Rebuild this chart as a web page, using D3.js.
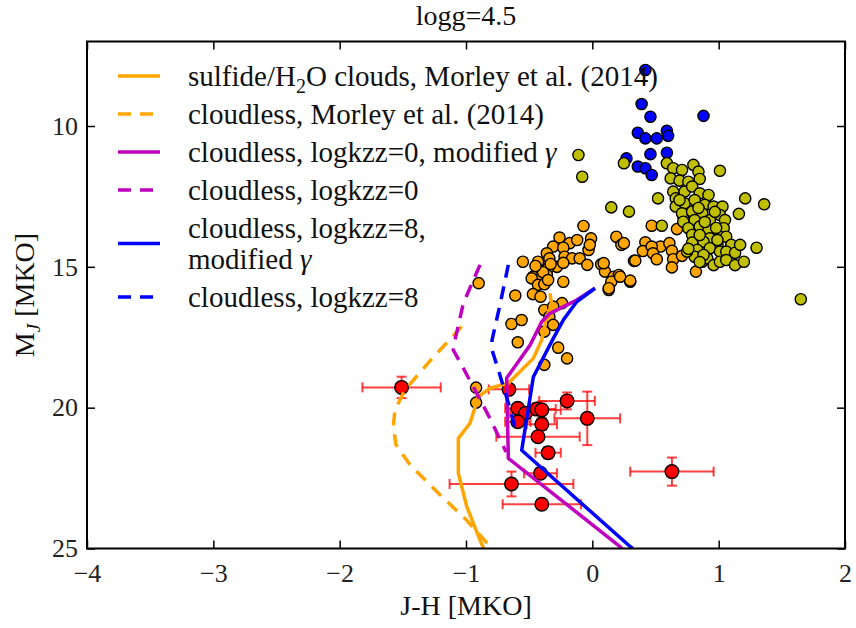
<!DOCTYPE html>
<html>
<head>
<meta charset="utf-8">
<script src="https://cdn.jsdelivr.net/npm/d3@7"></script>
<style>
  html, body { margin: 0; padding: 0; background: #fff; }
  svg { display: block; font-family: "Liberation Serif", "DejaVu Serif", serif; }
</style>
</head>
<body>
<svg id="chart" width="856" height="628"></svg>
<script>
// ---- axis ticks ----
const xTicks = [-4, -3, -2, -1, 0, 1, 2];
const yTicks = [10, 15, 20, 25];

// ---- model tracks: [J-H, M_J] ----
const morleySulfide = [[-0.335,15.94],[-0.321,16.36],[-0.361,16.77],[-0.401,17.60],[-0.467,18.25],[-0.572,18.72],[-0.665,19.13],[-0.810,19.31],[-0.903,19.61],[-0.968,20.55],[-1.061,21.09],[-1.061,22.33],[-0.994,23.51],[-0.889,24.70],[-0.860,25.00]];
const morleyClear = [[-1.034,17.12],[-1.285,18.34],[-1.483,19.37],[-1.562,20.08],[-1.576,20.67],[-1.554,21.32],[-1.443,22.03],[-1.206,23.09],[-1.000,23.97],[-0.810,24.93],[-0.790,25.00]];
const kzz0Gamma = [[0.021,15.76],[-0.124,16.18],[-0.335,16.65],[-0.401,16.95],[-0.493,17.78],[-0.678,18.95],[-0.665,21.80],[0.219,24.93],[0.236,25.00]];
const kzz0 = [[-0.889,14.93],[-1.021,16.29],[-1.087,17.60],[-1.101,17.95],[-1.021,18.60],[-0.810,20.38],[-0.683,21.57]];
const kzz8Gamma = [[0.021,15.76],[-0.124,16.24],[-0.230,16.89],[-0.309,17.54],[-0.467,18.91],[-0.559,21.51],[0.299,24.93],[0.320,25.00]];
const kzz8 = [[-0.665,14.93],[-0.731,16.35],[-0.794,17.60],[-0.794,17.95],[-0.744,18.66],[-0.652,20.02],[-0.599,20.94]];

// ---- field dwarfs: [J-H, M_J] ----
const mDwarfs = [[0.42,8.01],[0.39,9.22],[0.46,9.67],[0.88,9.64],[0.36,10.24],[0.42,10.44],[0.51,10.44],[0.59,10.17],[0.60,10.35],[0.46,11.00],[0.59,10.95],[0.27,11.15],[0.36,11.44],[0.42,11.50],[0.47,11.74]];
const tDwarfs = [[-0.07,13.55],[-0.26,13.96],[-0.18,14.16],[-0.12,14.05],[-0.01,13.99],[0.19,13.93],[0.23,14.22],[0.42,14.13],[0.40,14.44],[-0.31,14.28],[-0.23,14.32],[-0.03,14.40],[-0.02,14.22],[-0.36,14.52],[-0.34,14.70],[-0.22,14.64],[-0.16,14.70],[-0.10,14.70],[-0.43,14.82],[-0.55,14.82],[0.33,14.79],[-0.04,14.93],[0.07,14.91],[-0.28,15.00],[-0.23,14.86],[-0.35,15.05],[-0.43,15.11],[-0.47,15.35],[-0.40,15.35],[-0.36,15.29],[-0.48,15.41],[0.10,15.17],[0.17,15.35],[0.21,15.29],[0.15,15.53],[0.30,15.53],[-0.23,15.53],[-0.43,15.64],[-0.38,15.62],[0.13,15.82],[-0.90,15.58],[-0.61,16.02],[-0.47,15.97],[-0.41,16.06],[-0.24,16.29],[-0.38,16.53],[-0.31,16.41],[-0.64,17.03],[-0.56,16.89],[-0.34,16.77],[-0.31,17.06],[-0.38,17.30],[-0.59,17.68],[-0.27,17.87],[-0.20,18.25],[-0.38,18.48],[-0.92,19.29],[-0.92,19.82],[0.25,14.16],[0.47,13.54],[0.54,14.28],[0.61,14.16],[0.47,14.28],[0.48,14.52],[0.63,14.43],[0.67,13.66],[0.34,14.78],[0.51,14.73],[0.64,14.73],[0.71,14.61],[0.63,15.02],[0.82,15.17],[0.87,14.82],[0.30,15.49],[0.22,15.35],[0.72,13.22],[0.09,14.87],[0.13,15.76],[-0.39,15.19],[-0.35,15.47],[-0.45,14.97],[-0.33,14.90]];
const lDwarfs = [[-0.11,11.03],[-0.08,11.80],[0.15,12.89],[0.29,13.04],[0.25,11.32],[0.52,12.57],[0.55,13.54],[1.01,11.59],[1.21,12.57],[1.36,12.78],[1.16,13.12],[1.30,14.32],[1.65,16.15],[0.59,11.32],[0.64,11.50],[0.71,11.56],[0.80,11.38],[0.84,11.62],[0.62,11.86],[0.69,11.94],[0.76,11.98],[0.85,11.88],[0.64,12.33],[0.73,12.33],[0.79,12.15],[0.85,12.39],[0.92,12.45],[0.66,12.57],[0.66,12.86],[0.73,12.74],[0.81,12.63],[0.89,12.80],[0.96,12.86],[1.03,12.86],[0.71,13.10],[0.79,13.04],[0.87,13.10],[1.01,13.16],[0.72,13.40],[0.81,13.34],[0.93,13.34],[1.05,13.34],[0.76,13.63],[0.85,13.57],[1.04,13.63],[0.79,13.87],[0.92,13.69],[0.93,13.99],[1.01,13.93],[1.06,13.93],[0.79,14.14],[0.88,14.11],[0.99,14.22],[1.10,14.22],[0.83,14.40],[0.93,14.34],[1.01,14.46],[1.06,14.46],[1.13,14.50],[0.81,14.64],[0.91,14.70],[0.96,14.94],[1.01,14.82],[1.06,14.76],[1.13,14.94],[1.20,14.82],[0.88,14.58],[0.75,14.46],[0.69,12.63],[0.84,12.91],[0.97,13.05],[0.89,13.41],[0.98,13.62],[0.85,13.87],[0.99,14.05],[1.17,14.22],[0.76,14.36],[0.85,14.83]];

// ---- Y dwarfs with uncertainties: [J-H, M_J, err(J-H), err(M_J)] ----
const yDwarfs = [[-1.51,19.28,0.31,0.38],[-0.66,19.35,0.16,0.10],[-0.20,19.76,0.22,0.30],[-0.04,20.38,0.26,0.95],[-0.59,20.02,0.10,0.15],[-0.53,20.20,0.12,0.15],[-0.44,20.05,0.15,0.20],[-0.40,20.08,0.15,0.30],[-0.59,20.50,0.10,0.15],[-0.40,20.59,0.12,0.20],[-0.43,21.03,0.33,0.15],[-0.35,21.60,0.10,0.20],[-0.41,22.33,0.13,0.10],[-0.64,22.71,0.49,0.44],[-0.40,23.43,0.31,0.10],[0.63,22.27,0.33,0.50]];

// ---- legend entries: each label is a list of lines, each line a list of [text, style] runs ----
const tracks = [
  { data: morleySulfide, color: "#ffa500", dash: null, label: [[["sulfide/H"], ["2", "sub"], ["O clouds, Morley et al. (2014)"]]] },
  { data: morleyClear,   color: "#ffa500", dash: "13,9", label: [[["cloudless, Morley et al. (2014)"]]] },
  { data: kzz0Gamma,     color: "#bf00bf", dash: null, label: [[["cloudless, logkzz=0, modified "], ["γ", "it"]]] },
  { data: kzz0,          color: "#bf00bf", dash: "13,9", label: [[["cloudless, logkzz=0"]]] },
  { data: kzz8Gamma,     color: "#0000ff", dash: null, label: [[["cloudless, logkzz=8,"]], [["modified "], ["γ", "it"]]] },
  { data: kzz8,          color: "#0000ff", dash: "13,9", label: [[["cloudless, logkzz=8"]]] }
];

const plot = { left: 87, right: 845, top: 41.5, bottom: 548.5 };
const svg = d3.select("#chart");

const x = d3.scaleLinear().domain([-4, 2]).range([plot.left, plot.right]);
const y = d3.scaleLinear().domain([7, 25]).range([plot.top, plot.bottom]);

svg.append("defs").append("clipPath").attr("id", "plotClip")
  .append("rect")
  .attr("x", plot.left).attr("y", plot.top)
  .attr("width", plot.right - plot.left).attr("height", plot.bottom - plot.top);

const body = svg.append("g").attr("clip-path", "url(#plotClip)");

// scatter of field dwarfs
function scatter(data, fill, r) {
  body.append("g").selectAll("circle").data(data).join("circle")
    .attr("cx", d => x(d[0])).attr("cy", d => y(d[1])).attr("r", r)
    .attr("fill", fill).attr("stroke", "#000").attr("stroke-width", 1.4);
}
scatter(mDwarfs, "#0000ff", 5.6);
scatter(tDwarfs, "#ffa500", 5.6);
scatter(lDwarfs, "#bfbf00", 5.6);

// Y dwarfs: error bars then markers
const eb = body.append("g").attr("stroke", "#ff0000").attr("stroke-opacity", 0.75).attr("stroke-width", 2).attr("fill", "none");
const cap = 5;
yDwarfs.forEach(d => {
  const cx = x(d[0]), cy = y(d[1]);
  const x0 = x(d[0] - d[2]), x1 = x(d[0] + d[2]);
  const y0 = y(d[1] - d[3]), y1 = y(d[1] + d[3]);
  eb.append("line").attr("x1", x0).attr("x2", x1).attr("y1", cy).attr("y2", cy);
  eb.append("line").attr("x1", cx).attr("x2", cx).attr("y1", y0).attr("y2", y1);
  eb.append("line").attr("x1", x0).attr("x2", x0).attr("y1", cy - cap).attr("y2", cy + cap);
  eb.append("line").attr("x1", x1).attr("x2", x1).attr("y1", cy - cap).attr("y2", cy + cap);
  eb.append("line").attr("x1", cx - cap).attr("x2", cx + cap).attr("y1", y0).attr("y2", y0);
  eb.append("line").attr("x1", cx - cap).attr("x2", cx + cap).attr("y1", y1).attr("y2", y1);
});
body.append("g").selectAll("circle").data(yDwarfs).join("circle")
  .attr("cx", d => x(d[0])).attr("cy", d => y(d[1])).attr("r", 6.8)
  .attr("fill", "#ff0000").attr("stroke", "#000").attr("stroke-width", 1.4);

// model tracks
const line = d3.line().x(d => x(d[0])).y(d => y(d[1]));
tracks.forEach(t => {
  body.append("path").datum(t.data).attr("d", line)
    .attr("fill", "none").attr("stroke", t.color).attr("stroke-width", 3.5)
    .attr("stroke-linejoin", "round")
    .attr("stroke-dasharray", t.dash);
});

// axes with inward ticks on all four sides
const fmt = d => d < 0 ? "\u2212" + Math.abs(d) : String(d);
const tickLen = 8;
const axB = svg.append("g").attr("transform", `translate(0,${plot.bottom})`)
  .call(d3.axisBottom(x).tickValues(xTicks).tickSize(-tickLen).tickPadding(15).tickFormat(fmt));
const axT = svg.append("g").attr("transform", `translate(0,${plot.top})`)
  .call(d3.axisTop(x).tickValues(xTicks).tickSize(-tickLen).tickFormat(""));
const axL = svg.append("g").attr("transform", `translate(${plot.left},0)`)
  .call(d3.axisLeft(y).tickValues(yTicks).tickSize(-tickLen).tickPadding(9).tickFormat(fmt));
const axR = svg.append("g").attr("transform", `translate(${plot.right},0)`)
  .call(d3.axisRight(y).tickValues(yTicks).tickSize(-tickLen).tickFormat(""));
[axB, axT, axL, axR].forEach(a => {
  a.select(".domain").remove();
  a.selectAll(".tick line").attr("stroke", "#000").attr("stroke-width", 1.5);
  a.selectAll(".tick text").attr("fill", "#222").style("font-size", "26px")
    .style("font-family", "'Liberation Serif', serif");
});

// frame
svg.append("rect")
  .attr("x", plot.left).attr("y", plot.top)
  .attr("width", plot.right - plot.left).attr("height", plot.bottom - plot.top)
  .attr("fill", "none").attr("stroke", "#000").attr("stroke-width", 2);

// title and axis labels
svg.append("text").attr("x", (plot.left + plot.right) / 2).attr("y", 25)
  .attr("text-anchor", "middle").style("font-size", "28px").attr("fill", "#111").text("logg=4.5");

svg.append("text").attr("x", (plot.left + plot.right) / 2).attr("y", 615)
  .attr("text-anchor", "middle").style("font-size", "28px").attr("fill", "#111").text("J-H [MKO]");

const yl = svg.append("text")
  .attr("transform", `translate(34,${(plot.top + plot.bottom) / 2}) rotate(-90)`)
  .attr("text-anchor", "middle").style("font-size", "28px").attr("fill", "#111");
yl.append("tspan").text("M");
yl.append("tspan").attr("dy", 6).style("font-size", "19px").style("font-style", "italic").text("J");
yl.append("tspan").attr("dy", -6).text(" [MKO]");

// legend (no frame); multi-line labels share one text element
const leg = svg.append("g");
const rowH = 38, lineGap = 31, legTop = 57;
const sampleX0 = 118, sampleX1 = 160, textX = 188, subShift = 7;
let cursor = legTop;
tracks.forEach(t => {
  const nLines = t.label.length;
  const h = rowH + lineGap * (nLines - 1);
  const cy = cursor + h / 2;
  leg.append("line").attr("x1", sampleX0).attr("x2", sampleX1).attr("y1", cy).attr("y2", cy)
    .attr("stroke", t.color).attr("stroke-width", 3.5).attr("stroke-dasharray", t.dash);
  const txt = leg.append("text").attr("x", textX)
    .attr("y", cy - lineGap * (nLines - 1) / 2 + 10)
    .style("font-size", "29px").attr("fill", "#111");
  t.label.forEach((runs, li) => {
    let shift = 0;
    runs.forEach((r, ri) => {
      const ts = txt.append("tspan").text(r[0]);
      let dy = 0;
      if (ri === 0 && li > 0) { ts.attr("x", textX); dy += lineGap; }
      if (r[1] === "sub") { dy += subShift; shift = subShift; ts.style("font-size", "20px"); }
      else if (shift) { dy -= shift; shift = 0; }
      if (r[1] === "it") ts.style("font-style", "italic");
      if (dy) ts.attr("dy", dy);
    });
  });
  cursor += h;
});
</script>
</body>
</html>
